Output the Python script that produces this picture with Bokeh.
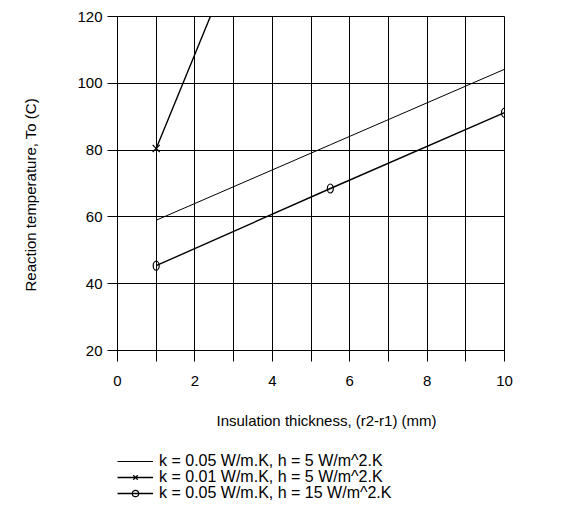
from bokeh.plotting import figure
from bokeh.layouts import column, row
from bokeh.models import FixedTicker, Legend, LegendItem, Range1d, Title
from bokeh.embed import file_html
from bokeh.resources import INLINE

# ---- data ----
thickness = [1, 5.5, 10]
temp_k005_h5 = [59.0, 81.6, 104.2]
temp_k001_h5 = [80.5, 207.5, 334.0]
temp_k005_h15 = [45.4, 68.5, 91.2]

x_major = [0, 2, 4, 6, 8, 10]
x_minor = [1, 3, 5, 7, 9]
x_grid = [0, 1, 2, 3, 4, 5, 6, 7, 8, 9, 10]
y_major = [20, 40, 60, 80, 100, 120]

labels = [
    "k = 0.05 W/m.K, h = 5 W/m^2.K",
    "k = 0.01 W/m.K, h = 5 W/m^2.K",
    "k = 0.05 W/m.K, h = 15 W/m^2.K",
]
x_title = "Insulation thickness, (r2-r1) (mm)"
y_title = "Reaction temperature, To (C)"

FONT = "Liberation Sans"
FS = "15px"
LFS = "16px"

# ---- strip holding the y-axis title ----
yf = figure(width=70, height=502, output_backend="svg", toolbar_location=None,
            x_axis_type=None, y_axis_type=None,
            x_range=Range1d(0, 1), y_range=Range1d(20, 120),
            min_border_left=0, min_border_right=0,
            min_border_top=16, min_border_bottom=152)
yf.outline_line_color = None
yf.background_fill_color = "white"
yf.border_fill_color = "white"
yf.add_layout(Title(text=y_title, align="left", offset=59, standoff=41,
                    vertical_align="middle", text_font=FONT,
                    text_font_size=FS, text_font_style="normal",
                    text_color="black"), "left")

# ---- main chart ----
p = figure(frame_width=387, frame_height=334, output_backend="svg",
           toolbar_location=None,
           x_range=Range1d(0, 10), y_range=Range1d(20, 120),
           min_border_left=47, min_border_right=46, min_border_top=16,
           min_border_bottom=42)
p.background_fill_color = "white"
p.border_fill_color = "white"
p.outline_line_color = "black"
p.outline_line_width = 1
p.outline_line_alpha = 1

p.xgrid.ticker = FixedTicker(ticks=x_grid)
p.ygrid.ticker = FixedTicker(ticks=y_major)
for g in (p.xgrid, p.ygrid):
    g.grid_line_color = "black"
    g.grid_line_width = 1
    g.grid_line_alpha = 1

p.xaxis.ticker = FixedTicker(ticks=x_major, minor_ticks=x_minor)
p.yaxis.ticker = FixedTicker(ticks=y_major, minor_ticks=[])
for ax in (p.xaxis, p.yaxis):
    ax.axis_line_color = "black"
    ax.major_tick_line_color = "black"
    ax.minor_tick_line_color = "black"
    ax.major_tick_in = 0
    ax.minor_tick_in = 0
    ax.major_label_text_font = FONT
    ax.major_label_text_font_size = FS
    ax.major_label_text_color = "black"
p.xaxis.major_tick_out = 11
p.xaxis.minor_tick_out = 11
p.yaxis.major_tick_out = 10
p.yaxis.minor_tick_out = 0
p.xaxis.major_label_standoff = 14
p.yaxis.major_label_standoff = 5

p.line(thickness, temp_k005_h5, line_color="black", line_width=1)
p.line(thickness, temp_k001_h5, line_color="black", line_width=1.4)
p.scatter(thickness, temp_k001_h5, marker="x", size=10,
          line_color="black", line_width=1.2)
p.line(thickness, temp_k005_h15, line_color="black", line_width=1.4)
p.ellipse(thickness, temp_k005_h15, width=6, height=9,
          width_units="screen", height_units="screen",
          fill_color=None, line_color="black", line_width=1.2)

# ---- x-axis title and legend strip below the chart ----
q = figure(width=480, height=110, output_backend="svg", toolbar_location=None,
           x_axis_type=None, y_axis_type=None,
           x_range=Range1d(-1, 0), y_range=Range1d(-1, 0),
           min_border_left=47, min_border_right=0, min_border_top=0,
           min_border_bottom=0)
q.outline_line_color = None
q.background_fill_color = "white"
q.border_fill_color = "white"
q.add_layout(Title(text=x_title, align="left", offset=99, standoff=37,
                   vertical_align="middle", text_font=FONT,
                   text_font_size=FS, text_font_style="normal",
                   text_color="black"), "above")

l1 = q.line(thickness, temp_k005_h5, line_color="black", line_width=1)
l2 = q.line(thickness, temp_k001_h5, line_color="black", line_width=1.4)
m2 = q.scatter(thickness, temp_k001_h5, marker="x", size=10,
               line_color="black", line_width=1.2)
l3 = q.line(thickness, temp_k005_h15, line_color="black", line_width=1.4)
m3 = q.scatter(thickness, temp_k005_h15, marker="circle", size=7,
               fill_color=None, line_color="black", line_width=1.2)

items = [
    LegendItem(label=labels[0], renderers=[l1]),
    LegendItem(label=labels[1], renderers=[l2, m2]),
    LegendItem(label=labels[2], renderers=[l3, m3]),
]
offsets = [32, 16, 0]
for item, vy in zip(items, offsets):
    lg = Legend(items=[item], location=(0, vy), orientation="vertical")
    lg.margin = 0
    lg.padding = 0
    lg.spacing = 0
    lg.border_line_alpha = 0
    lg.background_fill_alpha = 0
    lg.glyph_width = 36
    lg.glyph_height = 16
    lg.label_height = 16
    lg.label_standoff = 6
    lg.label_text_font = FONT
    lg.label_text_font_size = LFS
    lg.label_text_color = "black"
    q.add_layout(lg, "center")

layout = row(yf, column(p, q, spacing=0), spacing=0)
open("out.html", "w").write(file_html(layout, INLINE))
